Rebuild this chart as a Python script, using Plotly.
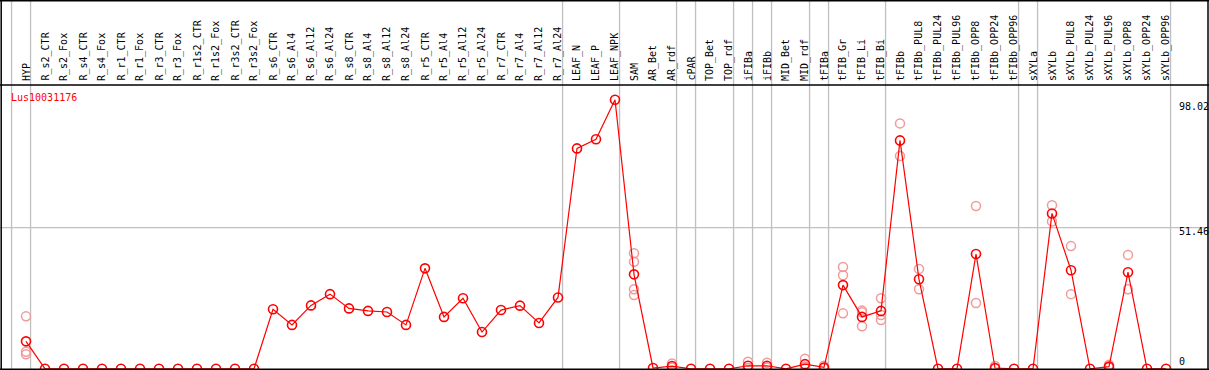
import plotly.graph_objects as go

categories = ["HYP", "R_s2_CTR", "R_s2_Fox", "R_s4_CTR", "R_s4_Fox", "R_r1_CTR", "R_r1_Fox",
              "R_r3_CTR", "R_r3_Fox", "R_r1s2_CTR", "R_r1s2_Fox", "R_r3s2_CTR", "R_r3s2_Fox",
              "R_s6_CTR", "R_s6_Al4", "R_s6_Al12", "R_s6_Al24", "R_s8_CTR", "R_s8_Al4", "R_s8_Al12",
              "R_s8_Al24", "R_r5_CTR", "R_r5_Al4", "R_r5_Al12", "R_r5_Al24", "R_r7_CTR", "R_r7_Al4",
              "R_r7_Al12", "R_r7_Al24", "LEAF_N", "LEAF_P", "LEAF_NPK", "SAM", "AR_Bet", "AR_rdf",
              "cPAR", "TOP_Bet", "TOP_rdf", "iFIBa", "iFIBb", "MID_Bet", "MID_rdf", "tFIBa",
              "tFIB_Gr", "tFIB_Li", "tFIB_Bi", "tFIBb", "tFIBb_PUL8", "tFIBb_PUL24", "tFIBb_PUL96",
              "tFIBb_OPP8", "tFIBb_OPP24", "tFIBb_OPP96", "sXYLa", "sXYLb", "sXYLb_PUL8",
              "sXYLb_PUL24", "sXYLb_PUL96", "sXYLb_OPP8", "sXYLb_OPP24", "sXYLb_OPP96"]

mean_values = [10.0, 0, 0, 0, 0, 0, 0, 0, 0, 0, 0, 0, 0,
               21.7, 16.0, 23.1, 27.2, 22.0, 21.1, 20.7,
               16.0, 36.6, 18.9, 25.7, 13.4, 21.4, 23.0,
               16.7, 26.0, 80.3, 83.6, 98.02, 34.4, 0.3, 1.0,
               0, 0, 0, 1.1, 1.1, 0, 1.7, 0.5,
               30.5, 18.9, 21.1, 83.2, 32.6, 0, 0,
               41.8, 0.3, 0, 0, 56.6, 35.9,
               0, 0.8, 35.2, 0, 0]

replicates = {
    "HYP": [19.1, 6.2, 5.3],
    "SAM": [42.1, 39.0, 29.0, 26.9],
    "AR_rdf": [1.9, 0.5, 0.5],
    "iFIBa": [2.6, 0.3, 0.3],
    "iFIBb": [2.2, 0.5, 0.5],
    "MID_rdf": [3.7, 0.8, 0.6],
    "tFIBa": [1.1, 0.2, 0.2],
    "tFIB_Gr": [37.1, 34.1, 20.2],
    "tFIB_Li": [21.2, 20.6, 15.5],
    "tFIB_Bi": [25.7, 19.6, 17.8],
    "tFIBb": [89.4, 77.5],
    "tFIBb_PUL8": [36.4, 29.0],
    "tFIBb_OPP8": [59.3, 24.0],
    "tFIBb_OPP24": [1.0, 0.0],
    "sXYLb": [59.6, 53.7],
    "sXYLb_PUL8": [44.7, 27.2],
    "sXYLb_PUL96": [1.5, 0.5],
    "sXYLb_OPP8": [41.5, 29.0],
}

# group separators: drawn after these category indices
separators_after = [-1, 0, 28, 31, 34, 35, 37, 38, 39, 41, 42, 45, 52, 53, 60]

gene = "Lus10031176"
y_ticks = [98.02, 51.46, 0]
grid_value = 51.46

W, H = 1209, 370
# pixel mapping
x0_px, dx_px = 26.0, 19.0
y0_px, dy_px = 368.8, 2.745
xmin = -x0_px / dx_px
xmax = (W - x0_px) / dx_px
ymax = y0_px / dy_px
ymin = (y0_px - H) / dy_px

def py(pixel_y):
    return 1 - pixel_y / H

def px(pixel_x):
    return pixel_x / W

xs = list(range(len(categories)))
fig = go.Figure()

rx, ry = [], []
for name, vals in replicates.items():
    i = categories.index(name)
    for v in vals:
        rx.append(i)
        ry.append(v)

fig.add_trace(go.Scatter(x=rx, y=ry, mode="markers",
                         marker=dict(symbol="circle-open", size=9, color="#f09a9a",
                                     line=dict(width=1.5, color="#f09a9a")),
                         hoverinfo="skip", showlegend=False))
fig.add_trace(go.Scatter(x=xs, y=mean_values, mode="lines+markers",
                         line=dict(color="#ff0000", width=1.2),
                         marker=dict(symbol="circle-open", size=9, color="#ff0000",
                                     line=dict(width=1.6, color="#ff0000")),
                         showlegend=False))

shapes = []
for i in separators_after:
    shapes.append(dict(type="line", xref="x", yref="paper", x0=i + 0.24, x1=i + 0.24,
                       y0=0, y1=1, line=dict(color="#c0c0c0", width=1.3), layer="below"))
shapes.append(dict(type="line", xref="paper", yref="y", x0=0, x1=1, y0=grid_value, y1=grid_value,
                   line=dict(color="#c0c0c0", width=1.3), layer="below"))
blk = dict(color="black", width=1.5)
shapes += [
    dict(type="line", xref="paper", yref="paper", x0=0, x1=1, y0=py(0.7), y1=py(0.7), line=blk),
    dict(type="line", xref="paper", yref="paper", x0=0, x1=1, y0=py(85), y1=py(85), line=blk),
    dict(type="line", xref="paper", yref="paper", x0=0, x1=1, y0=py(369.3), y1=py(369.3), line=blk),
    dict(type="line", xref="paper", yref="paper", x0=px(1.2), x1=px(1.2), y0=0, y1=1, line=blk),
    dict(type="line", xref="paper", yref="paper", x0=px(1208), x1=px(1208), y0=0, y1=1, line=blk),
]

annotations = []
mono = "DejaVu Sans Mono"
for i, c in enumerate(categories):
    annotations.append(dict(x=i, xref="x", y=py(83), yref="paper", text=c, textangle=-90,
                            showarrow=False, xanchor="center", yanchor="bottom",
                            font=dict(family=mono, size=10, color="black")))
annotations.append(dict(x=px(9), y=py(97), xref="paper", yref="paper", text=gene,
                        showarrow=False, xanchor="left", yanchor="middle",
                        font=dict(family=mono, size=10, color="#ff0000")))
label_offsets = {98.02: 106.7, 51.46: 231.7, 0: 361.7}
for t in y_ticks:
    annotations.append(dict(x=px(1177), y=py(label_offsets[t]), xref="paper", yref="paper",
                            text=f"{t:g}", showarrow=False, xanchor="left", yanchor="middle",
                            font=dict(family=mono, size=10, color="black")))

fig.update_layout(
    width=W, height=H, margin=dict(l=0, r=0, t=0, b=0),
    paper_bgcolor="white", plot_bgcolor="white",
    xaxis=dict(range=[xmin, xmax], visible=False, showgrid=False, zeroline=False),
    yaxis=dict(range=[ymin, ymax], visible=False, showgrid=False, zeroline=False),
    shapes=shapes, annotations=annotations,
)

fig.write_html("out.html", config={"displayModeBar": False},
               post_script="document.body.style.margin='0';document.body.style.padding='0';document.body.style.overflow='hidden';")
